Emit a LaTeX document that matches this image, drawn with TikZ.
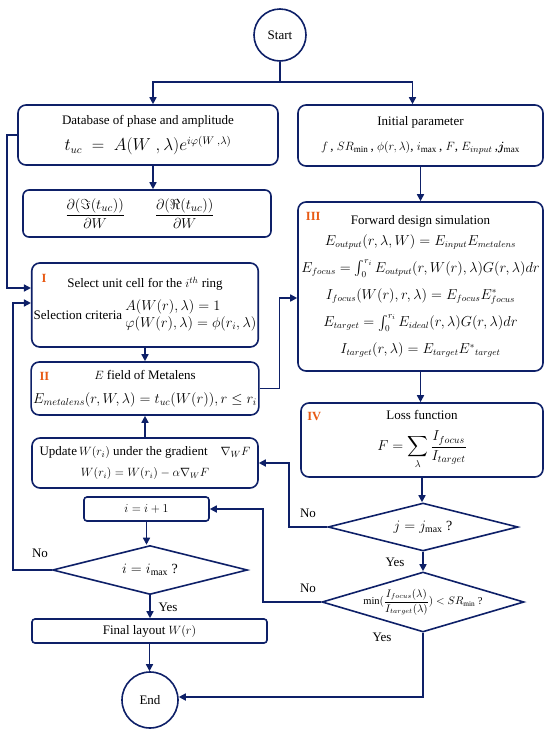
\documentclass[tikz,border=0pt]{standalone}
\usepackage{amsmath}
\usepackage{bm}
\usepackage{fontspec}
\setmainfont{Liberation Serif}
\usetikzlibrary{arrows.meta,positioning,shapes.geometric}

\definecolor{navy}{RGB}{14,32,104}
\definecolor{numorange}{RGB}{232,90,20}

\newcommand{\eqsize}{\fontsize{14}{17}\selectfont}
\newcommand{\fwdsize}{\fontsize{13.5}{16}\selectfont}

\tikzset{
  box/.style={draw=navy, line width=1.6pt, rounded corners=8pt, align=center, inner sep=2pt},
  smallbox/.style={draw=navy, line width=1.6pt, rounded corners=3pt, align=center, inner sep=1pt},
  decision/.style={draw=navy, line width=1.6pt, diamond, inner sep=0pt},
  terminal/.style={draw=navy, line width=1.6pt, circle, inner sep=0pt},
  flow/.style={draw=navy, line width=1.6pt},
  flowarr/.style={flow, -{Triangle[length=7pt,width=7pt]}},
  numlbl/.style={text=numorange, font=\fontsize{12.5}{14}\selectfont\bfseries, inner sep=0pt},
  ynlbl/.style={inner sep=0pt},
}

\begin{document}
\begin{tikzpicture}[x=1pt, y=-1pt, font=\fontsize{13}{15.5}\selectfont]
    \useasboundingbox[fill=white] (0,0) rectangle (550,734);

    % Terminals
    \node[terminal, minimum size=52pt] (start) at (280,35) {Start};
    \node[terminal, minimum size=56pt] (end) at (150,700) {End};

    % Left column: unit cell database
    \node[box, minimum width=260pt, minimum height=60pt] (db) at (148,135)
        {Database of phase and amplitude\\[8pt]
         {\fontsize{16}{18}\selectfont $t_{uc} \;=\; A(W\;,\lambda)e^{i\varphi(W\;,\lambda)}$}};
    \node[box, rounded corners=6pt, minimum width=248pt, minimum height=47pt] (deriv) at (147,213.5)
        {{\fontsize{15}{17}\selectfont $\dfrac{\partial(\Im(t_{uc}))}{\partial W}\qquad\dfrac{\partial(\Re(t_{uc}))}{\partial W}$}\hspace*{14pt}};

    % Right column: parameters and forward simulation
    \node[box, minimum width=245pt, minimum height=61pt] (init) at (420.5,135.5)
        {Initial parameter\\[10pt]
         $f$\,, $SR_{\min}$\,, $\phi(r,\lambda)$, $i_{\max}$\,, $F$, $E_{input}$\,,$\bm{j}_{\max}$};
    \node[box, minimum width=245pt, minimum height=169pt] (fwd) at (420.5,286.5)
        {Forward design simulation\\[5pt]
         {\fwdsize $E_{output}(r,\lambda,W) = E_{input}E_{metalens}$}\\[10pt]
         {\fwdsize $E_{focus} = \int_0^{r_i} E_{output}(r,W(r),\lambda)G(r,\lambda)dr$}\\[10pt]
         {\fwdsize $I_{focus}(W(r),r,\lambda) = E_{focus}E^{*}_{focus}$}\\[9pt]
         {\fwdsize $E_{target} = \int_0^{r_i} E_{ideal}(r,\lambda)G(r,\lambda)dr$}\\[10pt]
         {\fwdsize $I_{target}(r,\lambda) = E_{target}E^{*}{}_{target}$}};
    \node[box, minimum width=242pt, minimum height=74pt] (loss) at (422,440)
        {Loss function\\[10pt] {\eqsize $\displaystyle F = \sum_{\lambda}\frac{I_{focus}}{I_{target}}$}};

    % Ring loop
    \node[box, minimum width=226pt, minimum height=84pt] (selI) at (145,305)
        {Select unit cell for the $i^{th}$ ring\\[7pt]
         Selection criteria\ {\eqsize $\begin{array}{@{}l@{}} A(W(r),\lambda)=1\\ \varphi(W(r),\lambda)=\phi(r_i,\lambda)\end{array}$}};
    \node[box, minimum width=226pt, minimum height=53pt] (field) at (145,388.5)
        {$E$ field of Metalens\\[8pt]
         {\fontsize{14}{16}\selectfont $E_{metalens}(r,W,\lambda) = t_{uc}(W(r)), r \le r_i$}};
    \node[box, minimum width=226pt, minimum height=50pt] (upd) at (145,463)
        {Update$\,W(r_i)$ under the gradient\quad $\nabla_W F$\\[5pt]
         {\fontsize{11.5}{13}\selectfont $W(r_i) = W(r_i) - \alpha\nabla_W F$}};

    % Decisions
    \node[decision, minimum width=190pt, minimum height=48pt,
          label={center:{\eqsize $j = j_{\max}$ ?}}] (djj) at (423,527) {};
    \node[decision, minimum width=202pt, minimum height=60pt,
          label={center:{\fontsize{10.5}{12}\selectfont $\min(\dfrac{I_{focus}(\lambda)}{I_{target}(\lambda)}) < SR_{\min}$ ?}}] (dmin) at (423,602) {};
    \node[smallbox, minimum width=125pt, minimum height=24pt] (inc) at (146.5,509) {$i = i+1$};
    \node[decision, minimum width=195pt, minimum height=49pt,
          label={center:{\eqsize $i = i_{\max}$ ?}}] (dii) at (150,570) {};
    \node[smallbox, minimum width=235pt, minimum height=24pt] (final) at (149.5,631) {Final layout $W(r)$};

    % Stage numbers
    \node[numlbl] (nI) at ([xshift=13pt,yshift=-16pt]selI.north west) {I};
    \node[numlbl] (nII) at ([xshift=14pt,yshift=-15pt]field.north west) {II};
    \node[numlbl] (nIII) at ([xshift=16pt,yshift=-15pt]fwd.north west) {III};
    \node[numlbl] (nIV) at ([xshift=14pt,yshift=-14pt]loss.north west) {IV};

    % Connectors
    \coordinate (split) at (280,82);
    \draw[flow] (start) -- (split);
    \draw[flowarr] (split) -| ([xshift=5pt]db.north);
    \draw[flowarr] (split) -| ([xshift=-8pt]init.north);
    \draw[flowarr] ([xshift=5pt]db.south) -- ([xshift=5pt]db.south |- deriv.north);
    \draw[flowarr] (init.south) -- (init.south |- fwd.north);
    \draw[flowarr] (db.west) -- ++(-10,0) |- ([yshift=17pt]selI.west);
    \draw[flowarr] (selI.south) -- (field.north);
    \draw[flowarr] (upd.north) -- (field.south);
    \draw[flowarr] (field.east) -- ++(20,0) |- ([yshift=-11.5pt]fwd.west);
    \draw[flowarr] (fwd.south) -- (fwd.south |- loss.north);
    \draw[flowarr] (loss.south) -- (loss.south |- djj.north);
    \draw[flowarr] (djj.west) -- ++(-38,0) |- (upd.east);
    \draw[flowarr] (djj.south) -- (dmin.north);
    \draw[flowarr] (dmin.west) -- ++(-58,0) |- (inc.east);
    \draw[flowarr] (dmin.south) |- ([yshift=3pt]end.east);
    \draw[flowarr] (inc.south) -- (inc.south |- dii.north);
    \draw[flowarr] (dii.west) -- ++(-39,0) |- ([yshift=2pt]selI.west);
    \draw[flowarr] (dii.south) -- (dii.south |- final.north);
    \draw[flowarr] (final.south) -- (final.south |- end.north);

    % Yes / No
    \node[ynlbl] (no1) at (40,553) {No};
    \node[ynlbl] (yes1) at (168,607) {Yes};
    \node[ynlbl] (no2) at (308,513) {No};
    \node[ynlbl] (yes2) at (395,562) {Yes};
    \node[ynlbl] (no3) at (308,588) {No};
    \node[ynlbl] (yes3) at (382,637) {Yes};
\end{tikzpicture}
\end{document}
